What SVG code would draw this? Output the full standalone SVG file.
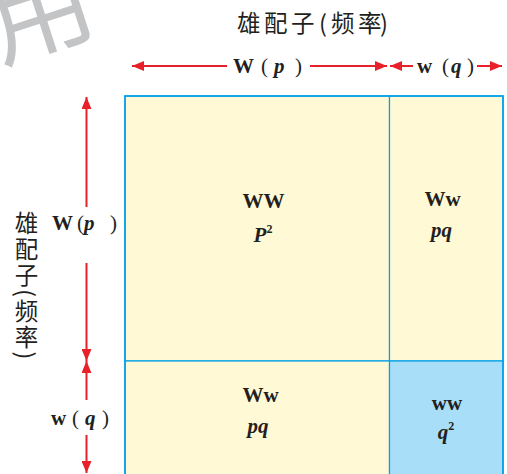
<svg xmlns="http://www.w3.org/2000/svg" width="507" height="474" viewBox="0 0 507 474">
<style>
.lbl{font-family:"Liberation Serif","Times New Roman",serif;font-weight:bold;fill:#231f20;}
.it{font-style:italic;}
.par{font-weight:normal;}
.cjk{font-family:"Noto Sans CJK SC","Noto Sans",sans-serif;fill:#231f20;}
.vert{writing-mode:vertical-rl;letter-spacing:2.5px;}
.arrow{stroke:#e8202a;stroke-width:2;fill:none;}
.cell{stroke:#00a0e9;stroke-width:1.2;}
</style>
<defs>
<marker id="ah" markerUnits="userSpaceOnUse" markerWidth="12" markerHeight="10" refX="12" refY="5" orient="auto-start-reverse">
<path d="M0,0 L12,5 L0,10 Z" fill="#e8202a"/>
</marker>
</defs>
<rect width="507" height="474" fill="#ffffff"/>
<text transform="translate(0 62) rotate(-18)" font-family="Noto Sans CJK SC, sans-serif" font-size="106" fill="#c3c4c6">用</text>
<text class="cjk" y="32" font-size="23.5"><tspan x="237">雄</tspan><tspan x="264">配</tspan><tspan x="291">子</tspan><tspan x="319">(</tspan><tspan x="331">频</tspan><tspan x="358">率</tspan><tspan x="380">)</tspan></text>
<text class="cjk vert" x="26.5" y="211" font-size="23.5">雄配子(频率)</text>
<g id="cell-WW">
<rect class="cell" x="125" y="96" width="264.5" height="265" fill="#fff9d6"/>
<text class="lbl" x="263.5" y="208" font-size="21" text-anchor="middle">WW</text>
<text class="lbl" x="263" y="242" font-size="21" text-anchor="middle"><tspan class="it">P</tspan><tspan font-size="12" dy="-9">2</tspan></text>
</g>
<g id="cell-Ww-top">
<rect class="cell" x="389.5" y="96" width="113.5" height="265" fill="#fff9d6"/>
<text class="lbl" x="442.5" y="206" font-size="21" text-anchor="middle">Ww</text>
<text class="lbl it" x="441.5" y="237" font-size="21" text-anchor="middle">pq</text>
</g>
<g id="cell-Ww-bottom">
<rect class="cell" x="125" y="361" width="264.5" height="120" fill="#fff9d6"/>
<text class="lbl" x="260.5" y="402" font-size="21" text-anchor="middle">Ww</text>
<text class="lbl it" x="258" y="433" font-size="21" text-anchor="middle">pq</text>
</g>
<g id="cell-ww">
<rect class="cell" x="389.5" y="361" width="113.5" height="120" fill="#a8def8"/>
<text class="lbl" x="447" y="410" font-size="21" text-anchor="middle">ww</text>
<text class="lbl" x="446" y="439" font-size="21" text-anchor="middle"><tspan class="it">q</tspan><tspan font-size="12" dy="-9">2</tspan></text>
</g>
<rect x="125" y="96" width="378" height="390" fill="none" stroke="#00a0e9" stroke-width="1.6"/>
<g id="connectors">
<line class="arrow" x1="227" y1="66" x2="132" y2="66" marker-end="url(#ah)"/>
<line class="arrow" x1="310" y1="66" x2="387" y2="66" marker-end="url(#ah)"/>
<line class="arrow" x1="413" y1="66" x2="390" y2="66" marker-end="url(#ah)"/>
<line class="arrow" x1="477" y1="66" x2="502" y2="66" marker-end="url(#ah)"/>
<line class="arrow" x1="86.5" y1="207" x2="86.5" y2="97" marker-end="url(#ah)"/>
<line class="arrow" x1="86.5" y1="263" x2="86.5" y2="361" marker-end="url(#ah)"/>
<line class="arrow" x1="86.5" y1="400" x2="86.5" y2="361" marker-end="url(#ah)"/>
<line class="arrow" x1="86.5" y1="435" x2="86.5" y2="473" marker-end="url(#ah)"/>
</g>
<g id="labels">
<text class="lbl" y="73" font-size="21"><tspan x="233">W</tspan><tspan class="par" x="261">(</tspan><tspan class="it" x="274">p</tspan><tspan class="par" x="295">)</tspan></text>
<text class="lbl" y="73" font-size="21"><tspan x="417">w</tspan><tspan class="par" x="442">(</tspan><tspan class="it" x="451">q</tspan><tspan class="par" x="467">)</tspan></text>
<text class="lbl" y="230" font-size="21"><tspan x="52">W</tspan><tspan class="par" x="77">(</tspan><tspan class="it" x="84">p</tspan><tspan class="par" x="110">)</tspan></text>
<text class="lbl" y="425" font-size="21"><tspan x="51">w</tspan><tspan class="par" x="72">(</tspan><tspan class="it" x="85">q</tspan><tspan class="par" x="102">)</tspan></text>
</g>
</svg>
